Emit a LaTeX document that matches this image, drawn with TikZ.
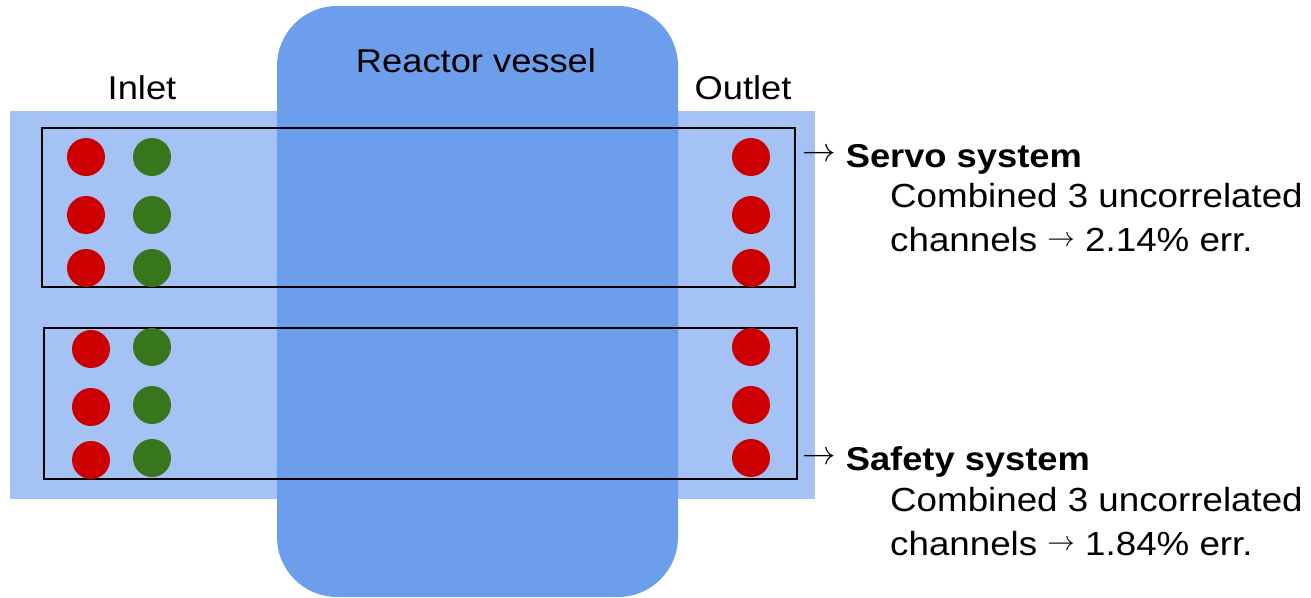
\documentclass[tikz,border=0pt]{standalone}
\usepackage{graphicx}
\usepackage{fontspec}
\setmainfont[FakeStretch=1.1]{Liberation Sans}
\definecolor{lightband}{HTML}{A4C2F4}
\definecolor{vesselblue}{HTML}{6D9EEB}
\definecolor{dotred}{HTML}{CC0000}
\definecolor{dotgreen}{HTML}{38761D}
\newcommand{\tenarr}{{\fontsize{10}{12}\selectfont$\rightarrow$}}
\newcommand{\bigarr}{\raisebox{6pt}{\scalebox{3.35}{\tenarr}}}
\newcommand{\smallarr}{\raisebox{5pt}{\scalebox{2.75}{\tenarr}}}
\begin{document}
\begin{tikzpicture}[x=1pt,y=-1pt,
  txt/.style={inner sep=0pt, font=\fontsize{33}{40}\selectfont},
  desc/.style={inner sep=0pt, font=\fontsize{33.4}{40}\selectfont},
  reddot/.style={circle, fill=dotred, minimum size=38pt, inner sep=0pt},
  greendot/.style={circle, fill=dotgreen, minimum size=38pt, inner sep=0pt},
  groupbox/.style={draw=black, line width=1.5pt}]
\useasboundingbox (0,0) rectangle (1311,597);
% band
\fill[lightband] (10,111) rectangle (815,499);
% vessel
\fill[vesselblue, rounded corners=60pt] (277,6) rectangle (678,597);
% group boxes
\draw[groupbox] (42,128) rectangle (795,287);
\draw[groupbox] (44,328) rectangle (797,479);
% labels
\node[txt, anchor=base] (inlet) at (142,99) {Inlet};
\node[txt, anchor=base] (outlet) at (743,99) {Outlet};
\node[txt, anchor=base] (vessel) at (476,72) {Reactor vessel};
% top group dots
\node[reddot] (r1) at (86,157) {};
\node[reddot] (r2) at (86,215) {};
\node[reddot] (r3) at (86,268) {};
\node[greendot] (g1) at (152,157) {};
\node[greendot] (g2) at (152,215) {};
\node[greendot] (g3) at (152,268) {};
\node[reddot] (o1) at (751,157) {};
\node[reddot] (o2) at (751,215) {};
\node[reddot] (o3) at (751,268) {};
% bottom group dots
\node[reddot] (r4) at (91,349) {};
\node[reddot] (r5) at (91,407) {};
\node[reddot] (r6) at (91,460) {};
\node[greendot] (g4) at (152,347) {};
\node[greendot] (g5) at (152,405) {};
\node[greendot] (g6) at (152,458) {};
\node[reddot] (o4) at (751,347) {};
\node[reddot] (o5) at (751,405) {};
\node[reddot] (o6) at (751,458) {};
% right texts
\node[txt, anchor=base west] (servo) at (802,167) {\bigarr\ \textbf{Servo system}};
\node[desc, anchor=base west] (servoA) at (890,207) {Combined 3 uncorrelated};
\node[desc, anchor=base west] (servoB) at (890,251) {channels \smallarr\ 2.14\% err.};
\node[txt, anchor=base west] (safety) at (802,470) {\bigarr\ \textbf{Safety system}};
\node[desc, anchor=base west] (safetyA) at (890,511) {Combined 3 uncorrelated};
\node[desc, anchor=base west] (safetyB) at (890,555) {channels \smallarr\ 1.84\% err.};
\end{tikzpicture}
\end{document}
